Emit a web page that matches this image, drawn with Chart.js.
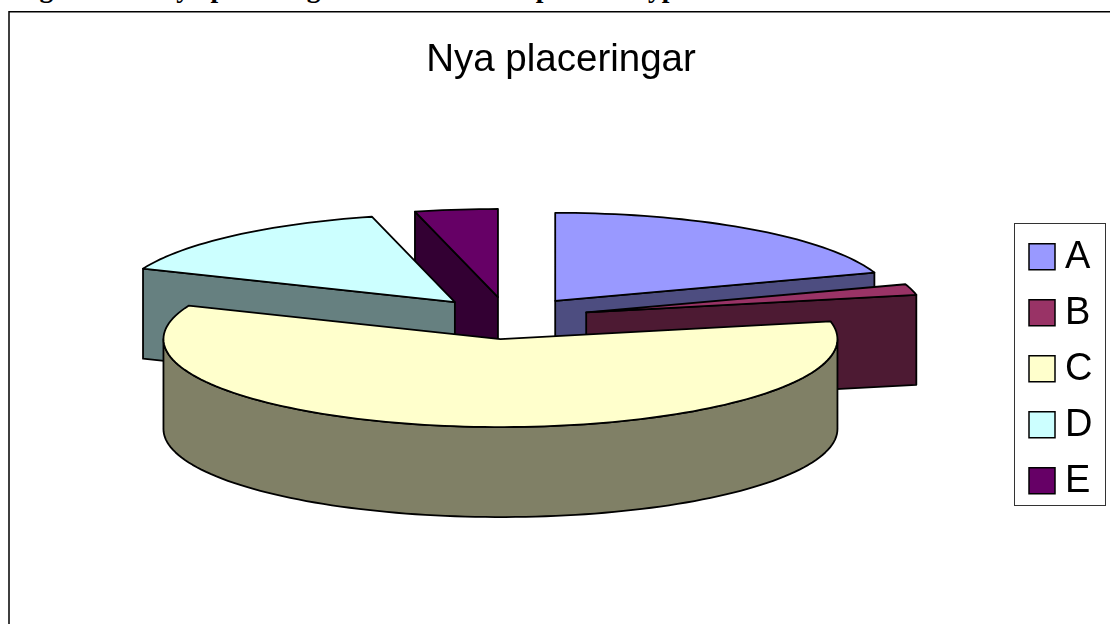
<!DOCTYPE html>
<html><head><meta charset="utf-8">
<style>
html,body{margin:0;padding:0;background:#fff;width:1110px;height:624px;overflow:hidden}
#cap{position:absolute;left:15px;top:-27px;font:700 27.5px/30px "Liberation Serif",serif;color:#000;white-space:nowrap}
#cap span{display:inline-block}
#c{position:absolute;left:0;top:0}
</style>
<script src="https://cdn.jsdelivr.net/npm/chart.js@4"></script>
</head><body>
<div id="cap"><span>Figur 14.</span> <span style="margin-left:28px">Nya placeringar</span> <span style="margin-left:44px">fördelade</span> <span style="margin-left:20px">på kontotyper</span></div>
<canvas id="c" width="1110" height="624"></canvas>
<script>
const categories = ['A','B','C','D','E'];
const values = [20,2,60,15,4];
const colors = ['#9999FF','#993366','#FFFFCC','#CCFFFF','#660066'];
const wallColors = ['#4D4D80','#4D1A33','#808066','#668080','#330033'];
const chartTitle = 'Nya placeringar';

const RX = 337, EXPLODE = 81, SQUASH = 88/337, DEPTH = 90, CX = 508, CY = 318;

function shift(arc){
  const mid = (arc.startAngle + arc.endAngle)/2;
  return {x: EXPLODE*Math.cos(mid), y: EXPLODE*Math.sin(mid)*SQUASH};
}
function pt(arc, ang, dy){
  const s = shift(arc);
  return [CX + s.x + RX*Math.cos(ang), CY + s.y + RX*Math.sin(ang)*SQUASH + (dy||0)];
}
function tip(arc, dy){
  const s = shift(arc);
  return [CX + s.x, CY + s.y + (dy||0)];
}
function poly(ctx, pts, fill){
  ctx.beginPath();
  pts.forEach((p,i)=> i ? ctx.lineTo(p[0],p[1]) : ctx.moveTo(p[0],p[1]));
  ctx.closePath();
  if (fill){ ctx.fillStyle = fill; ctx.fill(); }
  ctx.stroke();
}
function arcPts(arc, a, b, dy){
  const out = [], n = Math.max(2, Math.ceil(Math.abs(b-a)/0.03));
  for (let i=0;i<=n;i++) out.push(pt(arc, a+(b-a)*i/n, dy));
  return out;
}
let base = null;
const pie3d = {
  id:'pie3d',
  afterDatasetsUpdate(chart){
    const arcs = chart.getDatasetMeta(0).data;
    base = {x: arcs[0].x, y: arcs[0].y};
    // each slice is exploded along its own mid-angle
    arcs.forEach(arc=>{
      const mid = (arc.startAngle + arc.endAngle)/2;
      arc.x = base.x + EXPLODE*Math.cos(mid);
      arc.y = base.y + EXPLODE*Math.sin(mid);
    });
  },
  beforeDatasetDraw(chart){
    const ctx = chart.ctx, arcs = chart.getDatasetMeta(0).data;
    ctx.save();
    ctx.strokeStyle = '#000'; ctx.lineWidth = 1.8; ctx.lineJoin = 'round';
    const order = arcs.map((a,i)=>i).sort((i,j)=>shift(arcs[i]).y - shift(arcs[j]).y);
    order.forEach(i=>{
      const arc = arcs[i], a = arc.startAngle, b = arc.endAngle, col = wallColors[i];
      if (Math.cos(a) < -1e-6) poly(ctx, [tip(arc), pt(arc,a), pt(arc,a,DEPTH), tip(arc,DEPTH)], col);
      if (Math.cos(b) >  1e-6) poly(ctx, [tip(arc), pt(arc,b), pt(arc,b,DEPTH), tip(arc,DEPTH)], col);
      const from = Math.max(a,0), to = Math.min(b,Math.PI);
      if (to > from) poly(ctx, arcPts(arc,from,to,0).concat(arcPts(arc,to,from,DEPTH)), col);
    });
    ctx.restore();
    ctx.save();
    ctx.translate(CX, CY); ctx.scale(1, SQUASH); ctx.translate(-base.x, -base.y);
  },
  afterDatasetDraw(chart){
    const ctx = chart.ctx, arcs = chart.getDatasetMeta(0).data;
    ctx.restore();
    ctx.save();
    ctx.strokeStyle = '#000'; ctx.lineWidth = 1.8; ctx.lineJoin = 'round';
    arcs.forEach(arc=> poly(ctx, [tip(arc)].concat(arcPts(arc, arc.startAngle, arc.endAngle, 0))));
    ctx.restore();
  },
  afterDraw(chart){
    const ctx = chart.ctx;
    ctx.save();
    ctx.strokeStyle = '#000'; ctx.lineWidth = 1.5;
    ctx.strokeRect(9, 11.75, 1300, 900);
    ctx.strokeStyle = '#333'; ctx.lineWidth = 1;
    ctx.strokeRect(1014.5, 223.5, 91, 282);
    ctx.font = '38px "Liberation Sans", Arial, sans-serif';
    ctx.textAlign = 'left'; ctx.textBaseline = 'alphabetic';
    categories.forEach((lab,i)=>{
      const y = 243.75 + 56*i;
      ctx.fillStyle = colors[i]; ctx.strokeStyle = '#000'; ctx.lineWidth = 1.5;
      ctx.fillRect(1029, y, 26, 26); ctx.strokeRect(1029, y, 26, 26);
      ctx.fillStyle = '#000';
      ctx.fillText(lab, 1065, 268 + 56*i);
    });
    ctx.restore();
  }
};
new Chart(document.getElementById('c'), {
  type:'pie',
  data:{labels:categories, datasets:[{
    data:values, backgroundColor:colors, borderWidth:0, radius:RX, clip:false
  }]},
  options:{
    responsive:false, animation:false,
    layout:{padding:{left:12,right:0,top:0,bottom:0}},
    plugins:{
      legend:{display:false}, tooltip:{enabled:false},
      title:{display:true, text:chartTitle, color:'#000',
        font:{family:'"Liberation Sans", Arial, sans-serif', size:38.5, weight:'normal'},
        padding:{top:37,bottom:10}}
    }
  },
  plugins:[pie3d]
});
</script>
</body></html>
